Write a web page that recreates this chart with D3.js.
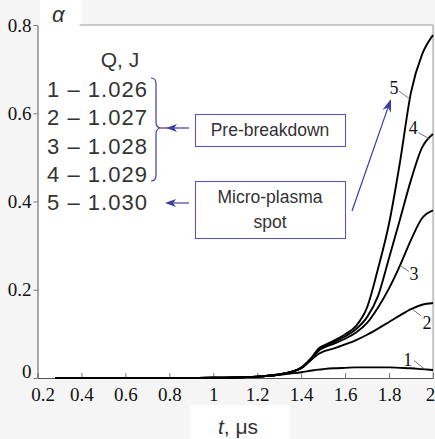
<!DOCTYPE html>
<html>
<head>
<meta charset="utf-8">
<script src="https://cdn.jsdelivr.net/npm/d3@7"></script>
<style>
  html, body { margin: 0; padding: 0; background: #f5f5f5; }
  svg { display: block; }
  svg text.serif { font-family: "Liberation Serif", Tinos, "Times New Roman", "DejaVu Serif", serif; }
  svg text.sans { font-family: "Liberation Sans", Arimo, Arial, "DejaVu Sans", sans-serif; }
</style>
</head>
<body>
<svg id="chart" width="435" height="439"></svg>
<script>
// Time grid, µs
const times = [0.28, 0.8, 1.0, 1.1, 1.2, 1.25, 1.3, 1.35, 1.4, 1.45, 1.48, 1.5,
               1.55, 1.6, 1.65, 1.7, 1.75, 1.8, 1.85, 1.9, 1.95, 2.0];

// Degree of ionisation α for each discharge energy
const alpha1 = [0, 0, 0.0005, 0.001, 0.003, 0.005, 0.007, 0.010, 0.013, 0.017, 0.019, 0.020,
                0.022, 0.023, 0.024, 0.024, 0.024, 0.024, 0.023, 0.022, 0.020, 0.018];
const alpha2 = [0, 0, 0.0005, 0.001, 0.003, 0.005, 0.008, 0.013, 0.022, 0.043, 0.055, 0.060,
                0.067, 0.076, 0.086, 0.098, 0.112, 0.127, 0.142, 0.156, 0.166, 0.170];
const alpha3 = [0, 0, 0.0005, 0.001, 0.003, 0.005, 0.008, 0.013, 0.022, 0.045, 0.062, 0.068,
                0.078, 0.089, 0.103, 0.125, 0.160, 0.203, 0.255, 0.313, 0.362, 0.380];
const alpha4 = [0, 0, 0.0005, 0.001, 0.003, 0.005, 0.008, 0.013, 0.023, 0.047, 0.065, 0.071,
                0.082, 0.094, 0.111, 0.138, 0.186, 0.272, 0.360, 0.449, 0.522, 0.553];
const alpha5 = [0, 0, 0.0005, 0.001, 0.003, 0.005, 0.008, 0.013, 0.024, 0.048, 0.067, 0.073,
                0.085, 0.099, 0.118, 0.160, 0.248, 0.350, 0.490, 0.648, 0.733, 0.777];

const curveLabels = ["1", "2", "3", "4", "5"];
const energies = ["1.026", "1.027", "1.028", "1.029", "1.030"];
const xTicks = [0.2, 0.4, 0.6, 0.8, 1.0, 1.2, 1.4, 1.6, 1.8, 2.0];
const yTicks = [0, 0.2, 0.4, 0.6, 0.8];

const series = [alpha1, alpha2, alpha3, alpha4, alpha5];

const svg = d3.select("#chart");
const plotLeft = 37.5, plotRight = 433, plotTop = 25, plotBottom = 378;

const x = d3.scaleLinear().domain([0.2, 2.0]).range([plotLeft, plotRight]);
const y = d3.scaleLinear().domain([0, 0.8]).range([plotBottom, plotTop]);

const blue = "#3c3ca2";
const serifStack = '"Liberation Serif", Tinos, "Times New Roman", "DejaVu Serif", serif';
const sansStack = '"Liberation Sans", Arimo, Arial, "DejaVu Sans", sans-serif';

// plot area
svg.append("rect").attr("x", plotLeft).attr("y", plotTop)
  .attr("width", plotRight - plotLeft).attr("height", plotBottom - plotTop).attr("fill", "#fff");
// light patches behind the axis titles
svg.append("rect").attr("x", 40).attr("y", 0).attr("width", 42).attr("height", 30).attr("fill", "#fff");
svg.append("rect").attr("x", 190).attr("y", 405).attr("width", 100).attr("height", 34).attr("fill", "#fff");

// frame on top and right
svg.append("path")
  .attr("d", `M${x(0.2) + 42},${plotTop}H${plotRight}V${plotBottom}`)
  .attr("fill", "none").attr("stroke", "#9a9a9a").attr("stroke-width", 1);

// x axis
const xAxis = d3.axisBottom(x).tickValues(xTicks).tickSizeInner(-5).tickSizeOuter(0)
  .tickPadding(10)
  .tickFormat(d => (d === 1 || d === 2) ? d3.format("d")(d) : d3.format(".1f")(d));
const gx = svg.append("g").attr("transform", `translate(0,${plotBottom})`).call(xAxis)
  .attr("font-family", serifStack).attr("font-size", 19);
gx.select(".domain").attr("stroke", "#555");
gx.selectAll(".tick line").attr("stroke", "#777");
gx.selectAll(".tick text")
  .attr("class", "serif").style("font-family", serifStack).attr("fill", "#111")
  .attr("dx", d => d === 0.2 ? 5 : d === 2.0 ? -3 : 0);

// y axis
const yAxis = d3.axisLeft(y).tickValues(yTicks).tickSizeInner(4).tickSizeOuter(0)
  .tickPadding(2)
  .tickFormat(d => d === 0 ? "0" : d3.format(".1f")(d));
const gy = svg.append("g").attr("transform", `translate(${plotLeft},0)`).call(yAxis)
  .attr("font-family", serifStack).attr("font-size", 19);
gy.select(".domain").attr("stroke", "#555");
gy.selectAll(".tick line").attr("stroke", "#777");
gy.selectAll(".tick text")
  .attr("class", "serif").style("font-family", serifStack).attr("fill", "#111")
  .attr("dy", d => d === 0 ? "-0.05em" : "0.32em");

// axis titles
svg.append("text").attr("class", "sans").attr("x", 52).attr("y", 22)
  .style("font-style", "italic").style("font-size", "22px")
  .attr("fill", "#333").text("α");
const xt = svg.append("text").attr("class", "sans").attr("x", 238).attr("y", 434)
  .attr("text-anchor", "middle").style("font-size", "21px").attr("fill", "#333");
xt.append("tspan").style("font-style", "italic").text("t");
xt.append("tspan").text(", μs");

// curves
const line = d3.line()
  .x((d, i) => x(times[i]))
  .y(d => y(d))
  .curve(d3.curveMonotoneX);

svg.append("g").selectAll("path").data(series).join("path")
  .attr("d", d => line(d))
  .attr("fill", "none").attr("stroke", "#000").attr("stroke-width", 1.9)
  .attr("stroke-linejoin", "round");

// curve number labels with leader lines
function valueAt(s, t) {
  const i = d3.bisectRight(times, t) - 1;
  if (i >= times.length - 1) return s[s.length - 1];
  const f = (t - times[i]) / (times[i + 1] - times[i]);
  return s[i] + f * (s[i + 1] - s[i]);
}
// attach time, leader vector and label offset for each numbered curve
const labelPlacement = [
  { t: 1.963, dx: -11, dy: -9, tx: -17, ty: -10 },
  { t: 1.904, dx: 9, dy: 7, tx: 15, ty: 14 },
  { t: 1.850, dx: 9, dy: 6, tx: 14, ty: 8 },
  { t: 1.983, dx: -11, dy: -6, tx: -16, ty: -11 },
  { t: 1.895, dx: -11, dy: -8, tx: -16, ty: -11 }
];
const gl = svg.append("g");
series.forEach((s, k) => {
  const p = labelPlacement[k];
  const cx = x(p.t), cy = y(valueAt(s, p.t));
  gl.append("line").attr("x1", cx).attr("y1", cy)
    .attr("x2", cx + p.dx).attr("y2", cy + p.dy)
    .attr("stroke", "#666").attr("stroke-width", 0.9);
  gl.append("text").attr("class", "serif").attr("x", cx + p.tx).attr("y", cy + p.ty)
    .attr("text-anchor", "middle").attr("dy", "0.35em")
    .style("font-family", serifStack).style("font-size", "18px").attr("fill", "#111")
    .text(curveLabels[k]);
});

// legend
svg.append("text").attr("class", "sans").attr("x", 120).attr("y", 67).attr("text-anchor", "middle")
  .style("font-size", "21px").attr("fill", "#333").text("Q, J");
const legendBase = [97, 125, 153.5, 181.5, 210];
energies.forEach((e, k) => {
  svg.append("text").attr("class", "sans").attr("x", 47).attr("y", legendBase[k])
    .style("font-size", "22px").attr("fill", "#333")
    .attr("textLength", 100).attr("lengthAdjust", "spacing")
    .text(`${curveLabels[k]} – ${e}`);
});

// bracket grouping curves 1–4
svg.append("path")
  .attr("d", "M151,78 Q156,78 156,84 L156,122 Q156,128 161,128 Q156,128 156,134 L156,175 Q156,181 151,181")
  .attr("fill", "none").attr("stroke", blue).attr("stroke-width", 1.2);

function leftArrow(x1, x2, yy) {
  svg.append("line").attr("x1", x1).attr("y1", yy).attr("x2", x2 + 4).attr("y2", yy)
    .attr("stroke", blue).attr("stroke-width", 1.2);
  svg.append("path")
    .attr("d", `M${x2},${yy} L${x2 + 11},${yy - 4} L${x2 + 8},${yy} L${x2 + 11},${yy + 4} Z`)
    .attr("fill", blue);
}
svg.append("line").attr("x1", 161).attr("y1", 128).attr("x2", 168).attr("y2", 128)
  .attr("stroke", blue).attr("stroke-width", 1.2);
leftArrow(189, 166, 128);
leftArrow(189, 165, 203);

// annotation boxes
function box(x0, y0, w, h, lines, lineGap) {
  svg.append("rect").attr("x", x0 + 0.5).attr("y", y0 + 0.5).attr("width", w).attr("height", h)
    .attr("fill", "#fff").attr("stroke", "#5a5aae").attr("stroke-width", 1.1);
  const midY = y0 + h / 2 - (lines.length - 1) * lineGap / 2;
  lines.forEach((l, i) => {
    svg.append("text").attr("class", "sans").attr("x", x0 + w / 2).attr("y", midY + i * lineGap)
      .attr("dy", "0.35em").attr("text-anchor", "middle")
      .style("font-size", "17.5px").attr("fill", "#333").text(l);
  });
}
box(195, 114, 150, 32, ["Pre-breakdown"], 0);
box(195, 181, 150, 57, ["Micro-plasma", "spot"], 25);

// arrow pointing toward curve 5
{
  const x1 = 352, y1 = 211, x2 = 391, y2 = 99;
  const len = Math.hypot(x2 - x1, y2 - y1);
  const ux = (x2 - x1) / len, uy = (y2 - y1) / len;
  const px = -uy, py = ux;
  svg.append("line").attr("x1", x1).attr("y1", y1)
    .attr("x2", x2 - ux * 6).attr("y2", y2 - uy * 6)
    .attr("stroke", blue).attr("stroke-width", 1.2);
  const bx = x2 - ux * 13, by = y2 - uy * 13;
  const mx = x2 - ux * 9, my = y2 - uy * 9;
  svg.append("path")
    .attr("d", `M${x2},${y2} L${bx + px * 4.5},${by + py * 4.5} L${mx},${my} L${bx - px * 4.5},${by - py * 4.5} Z`)
    .attr("fill", blue);
}
</script>
</body>
</html>
